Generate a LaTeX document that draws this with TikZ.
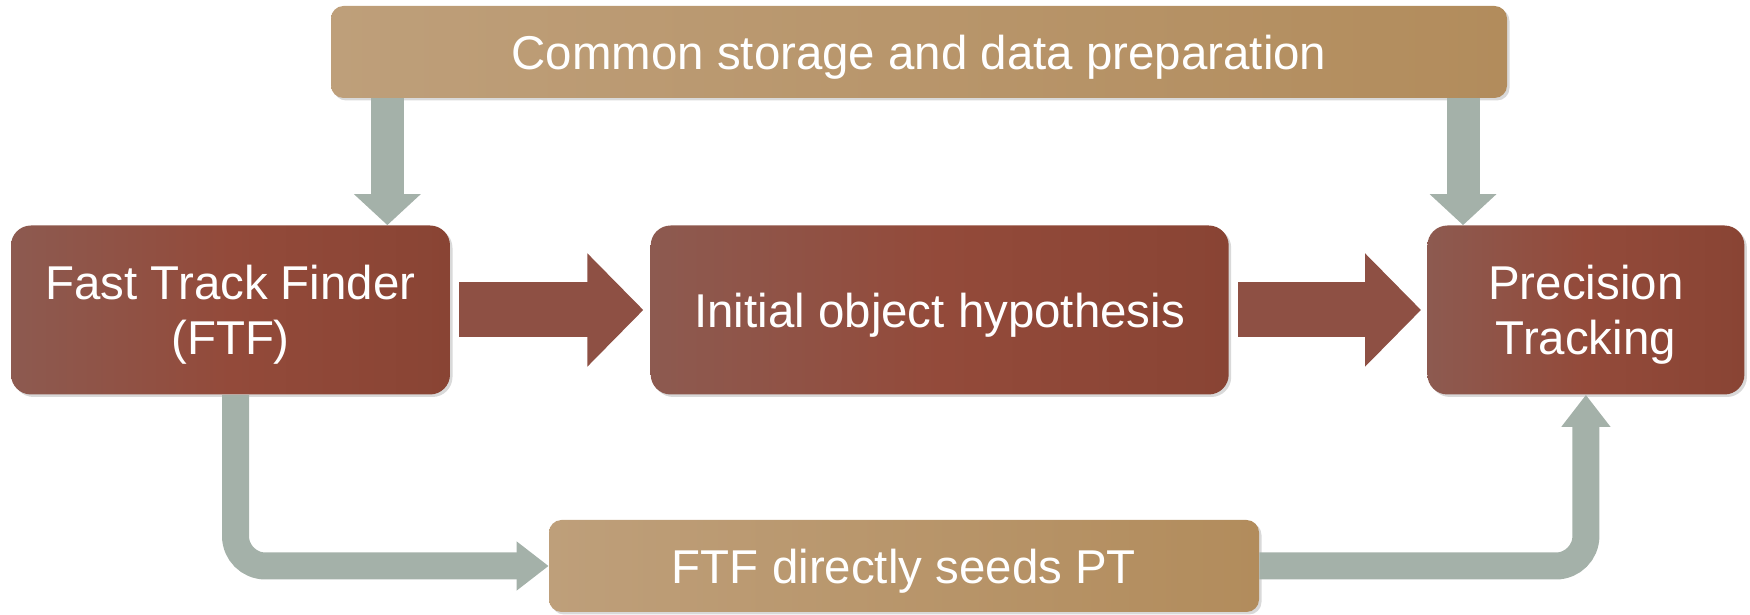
\documentclass[tikz,border=0pt]{standalone}
\usepackage{fontspec}
\setmainfont{Liberation Sans}
\usetikzlibrary{positioning, arrows.meta, shadows}
\definecolor{redl}{RGB}{141,90,80}
\definecolor{redm}{RGB}{147,74,58}
\definecolor{redr}{RGB}{137,68,52}
\definecolor{tanl}{RGB}{190,159,122}
\definecolor{tanr}{RGB}{178,140,92}
\definecolor{greyarr}{RGB}{164,177,169}
\definecolor{redarr}{RGB}{142,80,68}

\begin{document}
\begin{tikzpicture}[
        stage/.style={rectangle, rounded corners=0.4cm, minimum height=3.38cm, align=center, text=white, text depth=0pt, font=\fontsize{27}{31}\selectfont, left color=redl, right color=redr, middle color=redm, drop shadow={shadow xshift=0.05cm, shadow yshift=-0.05cm, opacity=0.3}},
        band/.style={rectangle, rounded corners=0.25cm, minimum height=1.84cm, text=white, text depth=0pt, font=\fontsize{27}{31}\selectfont, left color=tanl, right color=tanr, drop shadow={shadow xshift=0.05cm, shadow yshift=-0.05cm, opacity=0.3}},
        flow/.style={line width=1.1cm, draw=redarr, -{Triangle[length=1.12cm, width=2.2cm]}},
        feed/.style={line width=0.66cm, draw=greyarr, -{Triangle[length=0.62cm, width=1.3cm]}},
        bypass/.style={line width=0.54cm, draw=greyarr, rounded corners=0.6cm, -{Triangle[length=0.64cm, width=0.94cm]}}
    ]
    \useasboundingbox (0,0) rectangle (35,12.3);

    % Tracking stages
    \node[stage, minimum width=8.78cm] (ftf) at (4.61,6.1) {Fast Track Finder\\(FTF)};
    \node[stage, minimum width=11.56cm] (ioh) [right=4.0cm of ftf] {Initial object hypothesis};
    \node[stage, minimum width=6.34cm] (pt) [right=3.96cm of ioh] {Precision\\Tracking};

    % Storage and seeding
    \node[band, minimum width=23.52cm] (store) at (18.38,11.26) {Common storage and data preparation};
    \node[band, minimum width=14.2cm] (seed) at (18.08,0.98) {FTF directly seeds PT};

    % Main chain
    \draw[flow, shorten <=0.18cm, shorten >=0.14cm] (ftf) -- (ioh);
    \draw[flow, shorten <=0.18cm, shorten >=0.12cm] (ioh) -- (pt);

    % Data feeds
    \draw[feed] ([xshift=-1.26cm]ftf.north east |- store.south) -- ([xshift=-1.26cm]ftf.north east);
    \draw[feed] ([xshift=0.72cm]pt.north west |- store.south) -- ([xshift=0.72cm]pt.north west);

    % Seeding path
    \draw[bypass] ([xshift=0.1cm]ftf.south) |- (seed.west);
    \draw[bypass] (seed.east) -| (pt.south);

\end{tikzpicture}
\end{document}
